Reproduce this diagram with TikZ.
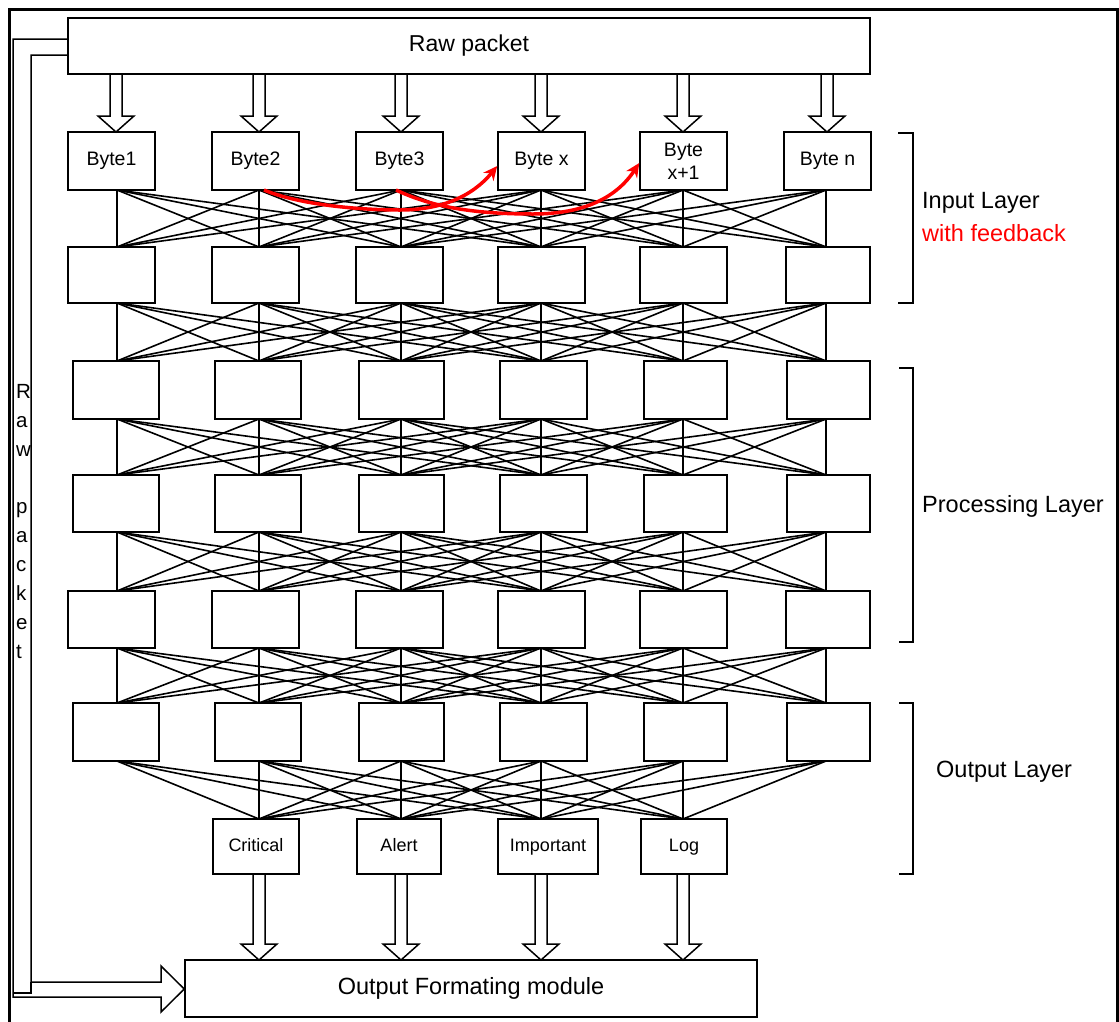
\documentclass[tikz,border=0pt]{standalone}
\usepackage{fontspec}
\setmainfont{Liberation Sans}
\usetikzlibrary{arrows.meta,calc}
\newcommand{\vblock}[2]{\draw[blk] let \p1=(#1), \p2=(#2) in (\x1-6pt,\y1) -- (\x1-6pt,\y2+16pt) -- (\x1-18pt,\y2+16pt) -- (\x1,\y2) -- (\x1+18pt,\y2+16pt) -- (\x1+6pt,\y2+16pt) -- (\x1+6pt,\y1);}
\begin{document}
\begin{tikzpicture}[x=1pt,y=-1pt,
  box/.style={draw,line width=1.5pt,inner sep=0pt,align=center},
  conn/.style={line width=1.6pt},
  blk/.style={line width=1.5pt,line join=miter},
  fb/.style={red,line width=3.5pt,-{Stealth[length=14pt,width=13pt]}},
  lbl/.style={font=\fontsize{23.5}{28}\selectfont,anchor=west,inner sep=0pt},
  brk/.style={line width=1.5pt},
  bytefont/.style={font=\fontsize{19.5}{23}\selectfont},
  outfont/.style={font=\fontsize{18}{21}\selectfont,text height=13pt,text depth=4pt}
]
\useasboundingbox (0,0) rectangle (1119,1021);
% outer frame
\draw[line width=3pt] (9,1030) -- (9,9) -- (1117,9) -- (1117,1030);

% raw packet
\node[box,minimum width=802pt,minimum height=56pt,font=\fontsize{23}{28}\selectfont] (raw) at (469,46) {Raw packet};

% byte boxes (layer 0)
\foreach \i/\cx/\t in {1/111.5/Byte1,2/255.5/Byte2,3/399.5/Byte3,4/541.5/Byte x,5/683.5/{Byte\\x+1},6/827.5/Byte n}
  \node[box,bytefont,minimum width=87pt,minimum height=58pt] (b0-\i) at (\cx,161) {\t};

% hidden layers
\foreach \k/\cy/\h in {1/275/56,4/619.5/57}
  \foreach \i/\cx/\w in {1/111.5/87,2/255.5/87,3/399.5/87,4/541.5/87,5/683.5/87,6/828/84}
    \node[box,minimum width=\w pt,minimum height=\h pt] (b\k-\i) at (\cx,\cy) {};
\foreach \k/\cy/\h in {2/390/58,3/503.5/57,5/732/58}
  \foreach \i/\cx/\w in {1/116/86,2/258/86,3/401.5/85,4/543.5/87,5/685.5/83,6/828.5/83}
    \node[box,minimum width=\w pt,minimum height=\h pt] (b\k-\i) at (\cx,\cy) {};

% output nodes
\node[box,outfont,minimum width=86pt,minimum height=55pt] (o-2) at (256,846.5) {Critical};
\node[box,outfont,minimum width=84pt,minimum height=55pt] (o-3) at (399,846.5) {Alert};
\node[box,outfont,minimum width=100pt,minimum height=55pt] (o-4) at (548,846.5) {Important};
\node[box,outfont,minimum width=86pt,minimum height=55pt] (o-5) at (684,846.5) {Log};

% output formatting module
\node[box,minimum width=572pt,minimum height=57pt,font=\fontsize{23.5}{28}\selectfont] (mod) at (471,988.5) {Output Formating module};

% connection points
\foreach \k/\yt/\yb in {0/132/190,1/247/303,2/361/419,3/475/532,4/591/648,5/703/761}
  \foreach \i/\cx in {1/117,2/259,3/401,4/541,5/683,6/826} {
    \coordinate (t\k-\i) at (\cx,\yt);
    \coordinate (s\k-\i) at (\cx,\yb);
  }
\foreach \i/\cx in {2/259,3/401,4/541,5/683} {
  \coordinate (to-\i) at (\cx,819);
  \coordinate (so-\i) at (\cx,874);
  \coordinate (mt-\i) at (\cx,960);
}
\foreach \i/\cx in {1/116,2/259,3/401,4/541,5/683,6/827} {
  \coordinate (rs-\i) at (\cx,74);
  \coordinate (rt-\i) at (\cx,132);
}

% mesh connections
\foreach \k/\n in {0/1,1/2,2/3,3/4,4/5}
  \foreach \i in {1,...,6}
    \foreach \j in {1,...,6} {
      \pgfmathtruncatemacro{\dd}{abs(\i-\j)}
      \ifnum\dd<4 \draw[conn] (s\k-\i) -- (t\n-\j); \fi
    }
\foreach \i in {1,...,6}
  \foreach \j in {2,...,5} {
    \pgfmathtruncatemacro{\dd}{abs(\i-\j)}
    \ifnum\dd<4 \draw[conn] (s5-\i) -- (to-\j); \fi
  }

% block arrows
\foreach \i in {1,...,6} { \vblock{rs-\i}{rt-\i} }
\foreach \i in {2,...,5} { \vblock{so-\i}{mt-\i} }

% raw packet bypass arrow
\draw[blk] (raw.west |- 0,39) -- (13,39) -- (13,997) -- (161,997) -- (161,1012) -- (mod.west |- 0,989) -- (161,966) -- (161,982) -- (31,982) -- (31,55) -- (raw.west |- 0,55);
\draw[blk] (13,993) -- (31,993) -- (31,982);
\node[anchor=north west,inner sep=0pt,align=left,font=\fontsize{20.5}{28.9}\selectfont] (vtext) at (16,384) {R\\a\\w\\\mbox{}\\p\\a\\c\\k\\e\\t};

% feedback arrows
\draw[fb] (264,190) .. controls (300,205) and (360,210) .. (400,210) .. controls (440,210) and (472,197) .. (b0-4.west |- 0,166);
\draw[fb] (396,190) .. controls (430,206) and (470,214) .. (533,214) .. controls (585,214) and (617,197) .. (b0-5.west |- 0,163);

% brackets and labels
\draw[brk] (898,133) -- (913,133) -- (913,303) -- (898,303);
\draw[brk] (899,368) -- (913,368) -- (913,642) -- (899,642);
\draw[brk] (899,703) -- (913,703) -- (913,874) -- (899,874);
\node[lbl] (inl) at (922,203) {Input Layer};
\node[lbl,text=red] (fbl) at (922,233) {with feedback};
\node[lbl] (prl) at (922,506) {Processing Layer};
\node[lbl] (oul) at (936,772) {Output Layer};
\end{tikzpicture}
\end{document}
